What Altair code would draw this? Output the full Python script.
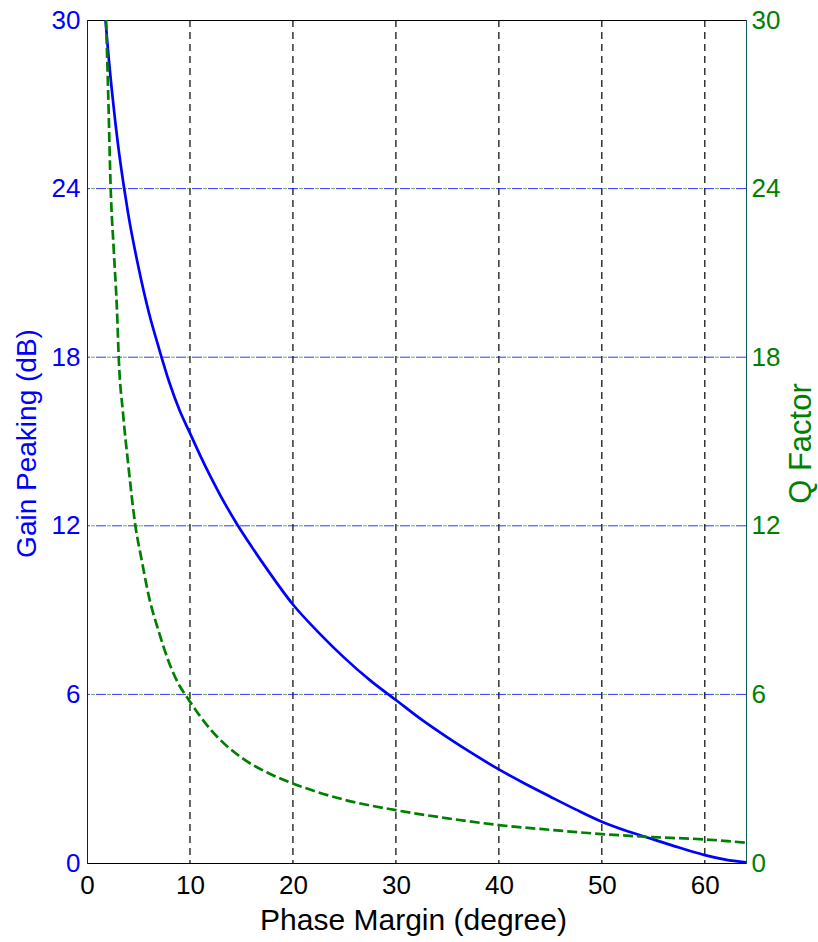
import altair as alt
import pandas as pd

# ---- data ----
pm_gain = [1.8, 2.0, 2.5, 3.0, 3.57, 4.0, 5.0, 6.0, 7.0, 8.0, 9.0, 10.0, 11.0, 12.0, 13.0,
           14.5, 16.0, 17.5, 20.0, 22.5, 25.0, 27.5, 30.0, 32.5, 35.0, 37.5, 40.0, 42.5, 45.0,
           47.5, 50.0, 52.5, 55.0, 57.5, 60.0, 62.0, 64.0]
gain_db = [30.0, 29.1, 27.2, 25.6, 24.1, 23.1, 21.2, 19.6, 18.3, 17.1, 16.1, 15.3, 14.5, 13.75, 13.05,
           12.1, 11.25, 10.45, 9.2, 8.2, 7.3, 6.5, 5.8, 5.1, 4.47, 3.88, 3.33, 2.83, 2.36,
           1.9, 1.47, 1.13, 0.84, 0.55, 0.28, 0.12, 0.02]

pm_q = [1.85, 2.05, 2.3, 2.6, 2.92, 3.08, 3.5, 4.0, 4.7, 5.3, 6.0, 7.0, 8.0, 9.0, 9.53,
        10.0, 12.0, 15.0, 17.5, 20.0, 25.0, 30.0, 35.0, 40.0, 45.0, 50.0, 55.0, 60.0, 64.0]
q_factor = [30.0, 27.5, 24.0, 21.8, 19.6, 18.0, 16.0, 14.2, 12.0, 10.8, 9.5, 8.2, 7.1, 6.3, 6.0,
            5.74, 4.75, 3.75, 3.22, 2.83, 2.25, 1.88, 1.59, 1.35, 1.18, 1.03, 0.92, 0.84, 0.72]

x_ticks = [0, 10, 20, 30, 40, 50, 60]
y_ticks = [0, 6, 12, 18, 24, 30]
grid_x = [10, 20, 30, 40, 50, 60]
grid_y = [6, 12, 18, 24]

BLUE = "#0000FF"
GREEN = "#008000"
FONT = "Liberation Sans"
LABEL_SIZE = 26

gain_df = pd.DataFrame({"pm": pm_gain, "v": gain_db})
q_df = pd.DataFrame({"pm": pm_q, "v": q_factor})

xs = alt.Scale(domain=[0, 64], nice=False, zero=False)
ys = alt.Scale(domain=[0, 30], nice=False)


def x_axis():
    return alt.Axis(
        values=x_ticks, title="Phase Margin (degree)", grid=False, ticks=False,
        labelFlush=False, labelFont=FONT, labelFontSize=LABEL_SIZE, labelColor="black",
        labelPadding=9,
        titleFont=FONT, titleFontSize=30, titleFontWeight="normal", titleColor="black",
        titleBaseline="alphabetic", titleX=326, titleY=66,
        domainColor="black", domainWidth=1)


vgrid = alt.Chart(pd.DataFrame({"pm": grid_x})).mark_rule(
    color="black", strokeDash=[7, 5], strokeWidth=1.2
).encode(x=alt.X("pm:Q", scale=xs, axis=x_axis()))

hgrid_blue = alt.Chart(pd.DataFrame({"v": grid_y})).mark_rule(
    color=BLUE, strokeDash=[10, 6], strokeWidth=1, opacity=0.8
).encode(y=alt.Y("v:Q", scale=ys, axis=None))

hgrid_green = alt.Chart(pd.DataFrame({"v": grid_y})).mark_rule(
    color=GREEN, strokeDash=[4, 12], strokeDashOffset=-11, strokeWidth=1, opacity=0.6
).encode(y=alt.Y("v:Q", scale=ys, axis=None))

gain_line = alt.Chart(gain_df).mark_line(
    color=BLUE, strokeWidth=2.7, interpolate="monotone"
).encode(
    x=alt.X("pm:Q", scale=xs, axis=x_axis()),
    y=alt.Y("v:Q", scale=ys, axis=alt.Axis(
        orient="left", values=y_ticks, title="Gain Peaking (dB)", grid=False, ticks=False,
        tickSize=0, labelFont=FONT, labelFontSize=LABEL_SIZE, labelColor=BLUE, labelPadding=7,
        titleFont=FONT, titleFontSize=28, titleFontWeight="normal", titleColor=BLUE,
        titleAngle=270, titleAlign="center", titleBaseline="middle", titleX=-60, titleY=423,
        domainColor=BLUE, domainWidth=1)),
)

q_line = alt.Chart(q_df).mark_line(
    color=GREEN, strokeWidth=2.7, strokeDash=[10, 4], interpolate="monotone"
).encode(
    x=alt.X("pm:Q", scale=xs, axis=x_axis()),
    y=alt.Y("v:Q", scale=ys, axis=alt.Axis(
        orient="right", values=y_ticks, title="Q Factor", grid=False, ticks=False,
        tickSize=0, labelFont=FONT, labelFontSize=LABEL_SIZE, labelColor=GREEN, labelPadding=5,
        titleFont=FONT, titleFontSize=31, titleFontWeight="normal", titleColor=GREEN,
        titleAngle=270, titleAlign="center", titleBaseline="middle", titleX=55, titleY=423,
        domainColor="#0a5a5a", domainWidth=1)),
)

chart = alt.layer(vgrid, hgrid_blue, hgrid_green, gain_line, q_line).resolve_scale(
    y="independent"
).properties(
    width=659, height=843,
    autosize=alt.AutoSizeParams(type="none"),
    padding={"left": 87, "top": 20, "right": 72, "bottom": 79},
    background="white",
).configure_view(stroke="black", strokeWidth=1)

chart.save("out.html", embed_options={"renderer": "svg", "actions": False})
